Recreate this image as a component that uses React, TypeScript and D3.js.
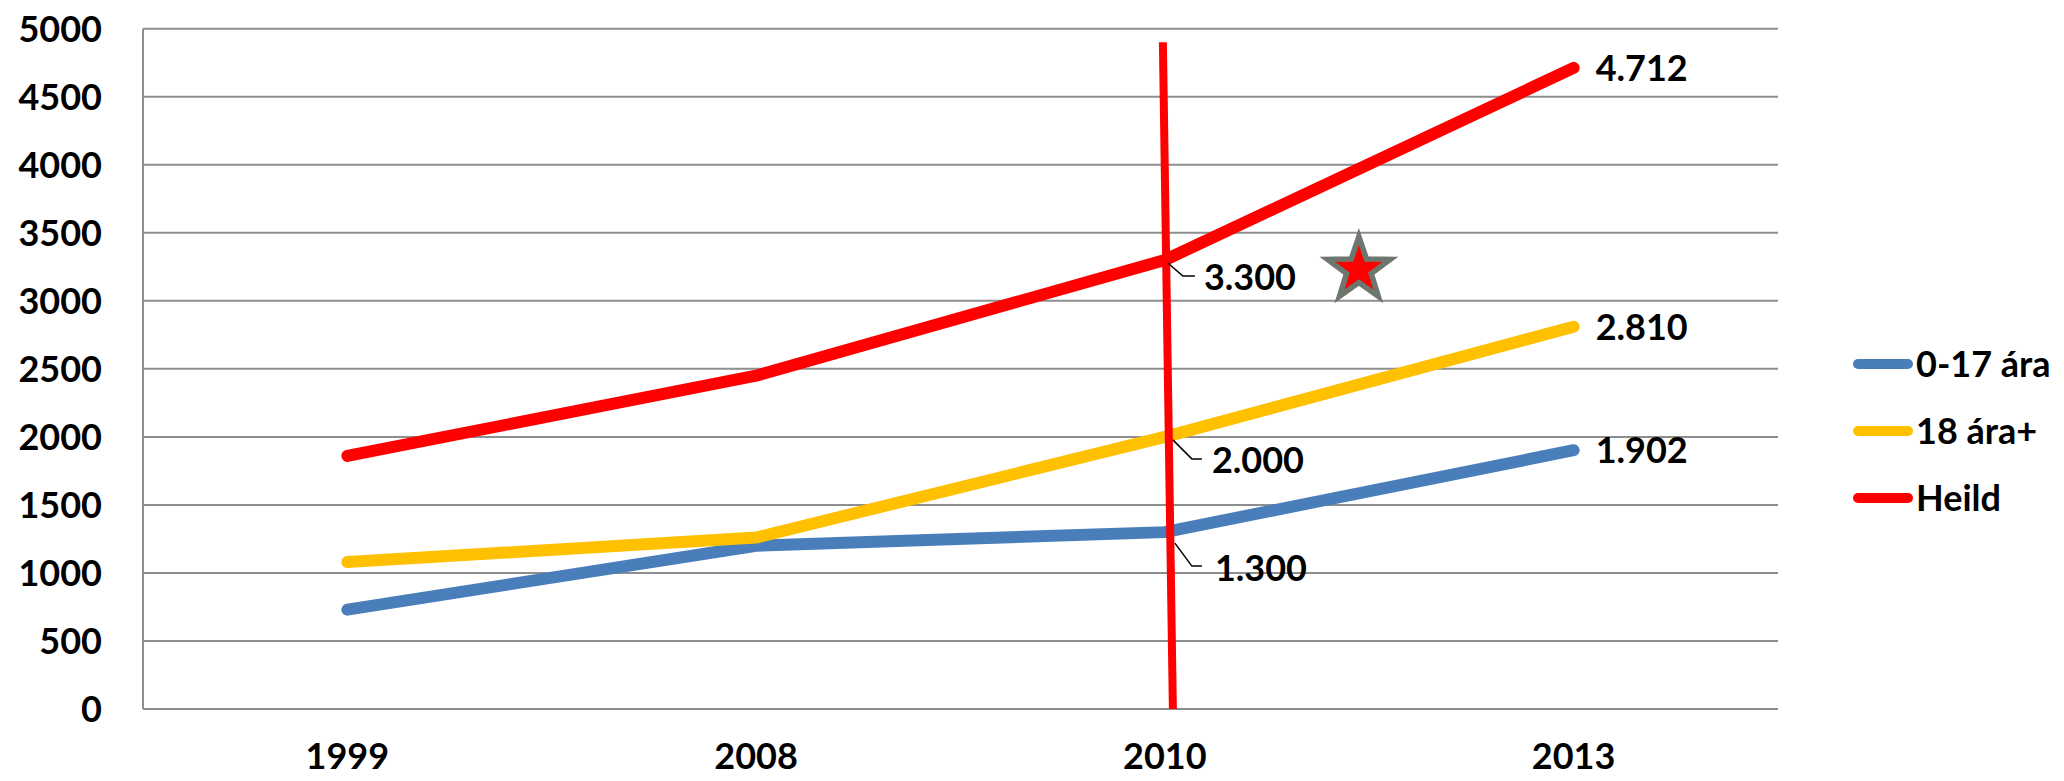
import React from "react";
import * as d3 from "d3";

const years = ["1999", "2008", "2010", "2013"];
const children = [730, 1200, 1300, 1902];
const adults = [1080, 1260, 2000, 2810];
const total = [1860, 2450, 3300, 4712];
const seriesNames = ["0-17 ára", "18 ára+", "Heild"];
const seriesColors = ["#4A7EBB", "#FFC000", "#FF0000"];
const yTicks = [0, 500, 1000, 1500, 2000, 2500, 3000, 3500, 4000, 4500, 5000];

// Annotation: vertical marker line at 2010 reaching up to this value
const markerTop = 4900;
const starValue = 3230;

const W = 2064;
const H = 781;
const FONT = "Lato, 'Open Sans', sans-serif";

const fmt = (v: number) => {
  const s = String(v);
  return s.length > 3 ? s.slice(0, s.length - 3) + "." + s.slice(s.length - 3) : s;
};

function starPath(cx: number, cy: number, R: number, r: number) {
  const pts: string[] = [];
  for (let i = 0; i < 10; i++) {
    const a = -Math.PI / 2 + (i * Math.PI) / 5;
    const rad = i % 2 === 0 ? R : r;
    pts.push(`${cx + rad * Math.cos(a)},${cy + rad * Math.sin(a)}`);
  }
  return "M" + pts.join("L") + "Z";
}

export default function App() {
  const x = d3.scaleBand<string>().domain(years).range([143, 1778]);
  const y = d3.scaleLinear().domain([0, 5000]).range([709, 28.7]);
  const cx = (yr: string) => (x(yr) as number) + x.bandwidth() / 2;

  const series = [children, adults, total];
  const line = d3
    .line<number>()
    .x((_, i) => cx(years[i]))
    .y((v) => y(v));

  const x2010 = cx("2010");
  const last = years.length - 1;

  // leader label offsets for the 2010 points (relative to point)
  const leaders = [
    { v: children[2], a: [10, 11], b: [27, 34], c: [37, 34], t: [50, 36] },
    { v: adults[2], a: [8, 3], b: [27, 22], c: [37, 22], t: [47, 23] },
    { v: total[2], a: [3, 3], b: [18, 16], c: [30, 16], t: [39, 17] },
  ];

  return (
    <svg
      width={W}
      height={H}
      style={{ position: "absolute", left: 0, top: 0, background: "#fff" }}
      fontFamily={FONT}
      fontWeight={700}
    >
      {/* gridlines */}
      {yTicks.map((t) => (
        <line key={t} x1={143} x2={1778} y1={y(t)} y2={y(t)} stroke="#8E8E8E" strokeWidth={2} />
      ))}
      <line x1={143} x2={143} y1={y(5000)} y2={y(0)} stroke="#8E8E8E" strokeWidth={2} />
      {/* y tick labels */}
      {yTicks.map((t) => (
        <text key={"l" + t} x={102} y={y(t)} dy="0.36em" textAnchor="end" fontSize={36} fill="#000">
          {t}
        </text>
      ))}
      {/* x labels */}
      {years.map((yr) => (
        <text key={yr} x={cx(yr)} y={769} textAnchor="middle" fontSize={36} fill="#000">
          {yr}
        </text>
      ))}
      {/* series lines */}
      {series.map((s, i) => (
        <path
          key={i}
          d={line(s) as string}
          fill="none"
          stroke={seriesColors[i]}
          strokeWidth={12}
          strokeLinecap="round"
          strokeLinejoin="round"
        />
      ))}
      {/* vertical marker line */}
      <line
        x1={x2010 - 2}
        y1={y(markerTop)}
        x2={x2010 + 8}
        y2={y(0)}
        stroke="#FF0000"
        strokeWidth={8}
      />
      {/* 2010 leader labels */}
      {leaders.map((l, i) => {
        const px = x2010;
        const py = y(l.v);
        return (
          <g key={"ld" + i}>
            <polyline
              points={`${px + l.a[0]},${py + l.a[1]} ${px + l.b[0]},${py + l.b[1]} ${px + l.c[0]},${py + l.c[1]}`}
              fill="none"
              stroke="#000"
              strokeWidth={1.5}
            />
            <text x={px + l.t[0]} y={py + l.t[1]} dy="0.36em" fontSize={36} fill="#000">
              {fmt(l.v)}
            </text>
          </g>
        );
      })}
      {/* end labels */}
      {series.map((s, i) => (
        <text
          key={"e" + i}
          x={cx(years[last]) + 22}
          y={y(s[last])}
          dy="0.36em"
          fontSize={36}
          fill="#000"
        >
          {fmt(s[last])}
        </text>
      ))}
      {/* star */}
      <path
        d={starPath(x2010 + 194, y(starValue), 33, 13)}
        fill="#FF0000"
        stroke="#6E776E"
        strokeWidth={5.5}
        strokeLinejoin="miter"
      />
      {/* legend */}
      {seriesNames.map((n, i) => {
        const ly = 364 + i * 67;
        return (
          <g key={n}>
            <line x1={1858} x2={1908} y1={ly} y2={ly} stroke={seriesColors[i]} strokeWidth={10} strokeLinecap="round" />
            <text x={1916} y={ly} dy="0.36em" fontSize={36} fill="#000">
              {n}
            </text>
          </g>
        );
      })}
    </svg>
  );
}
